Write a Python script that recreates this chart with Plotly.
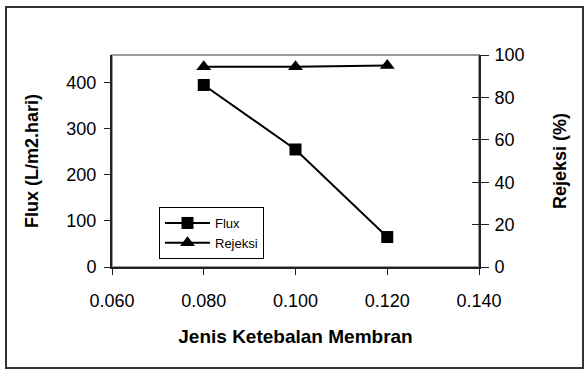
import plotly.graph_objects as go

thickness = [0.080, 0.100, 0.120]
flux = [395, 255, 65]
rejeksi = [94.5, 94.5, 95.0]

x_ticks = [0.06, 0.08, 0.10, 0.12, 0.14]
x_tick_labels = ["0.060", "0.080", "0.100", "0.120", "0.140"]
flux_ticks = [0, 100, 200, 300, 400]
rej_ticks = [0, 20, 40, 60, 80, 100]

W, H = 586, 370
L, R, T, B = 112, 107, 55, 103
pw, ph = W - L - R, H - T - B

fig = go.Figure()
fig.add_trace(go.Scatter(x=thickness, y=flux, name="Flux", mode="lines+markers",
                         line=dict(color="black", width=2),
                         marker=dict(symbol="square", size=12, color="black")))
fig.add_trace(go.Scatter(x=thickness, y=rejeksi, name="Rejeksi", mode="lines+markers",
                         yaxis="y2",
                         line=dict(color="black", width=2),
                         marker=dict(symbol="triangle-up", size=13, color="black")))

font = "Liberation Sans, Arial, sans-serif"
axc = "#222222"

def px(x):
    return (x - L) / pw

def py(y):
    return (H - B - y) / ph

fig.update_layout(
    width=W, height=H,
    margin=dict(l=L, r=R, t=T, b=B),
    paper_bgcolor="white", plot_bgcolor="white",
    font=dict(family=font, color="black", size=18),
    showlegend=True,
    legend=dict(x=px(159), y=py(207), xanchor="left", yanchor="top",
                bgcolor="white", bordercolor="black", borderwidth=1,
                font=dict(size=13, family=font), tracegroupgap=0,
                itemwidth=45),
    xaxis=dict(range=[0.06, 0.14], tickvals=x_ticks, ticktext=x_tick_labels,
               showgrid=False, zeroline=False, showline=True, linecolor=axc,
               linewidth=2, ticks="outside", ticklen=6, tickcolor=axc,
               tickfont=dict(size=18), ticklabelstandoff=10,
               title=dict(text="<b>Jenis Ketebalan Membran</b>", font=dict(size=19), standoff=20)),
    yaxis=dict(range=[0, 460], tickvals=flux_ticks, showgrid=False, zeroline=False,
               showline=True, linecolor=axc, linewidth=2, ticks="outside",
               ticklen=6, tickcolor=axc, tickfont=dict(size=18), ticklabelstandoff=4,
               title=dict(text="<b>Flux (L/m2.hari)</b>", font=dict(size=18), standoff=23)),
    yaxis2=dict(range=[0, 100], tickvals=rej_ticks, overlaying="y", side="right",
                showgrid=False, zeroline=False, showline=True, linecolor=axc,
                linewidth=2, ticks="outside", ticklen=8, tickcolor=axc,
                tickfont=dict(size=18), ticklabelstandoff=2,
                title=dict(text="<b>Rejeksi (%)</b>", font=dict(size=18), standoff=30)),
    yaxis3=dict(range=[0, 100], tickvals=rej_ticks, overlaying="y", side="right",
                anchor="x", showgrid=False, zeroline=False, showline=False,
                ticks="inside", ticklen=7, tickcolor=axc, showticklabels=False),
    shapes=[
        dict(type="rect", xref="paper", yref="paper", x0=0, x1=1, y0=0, y1=1,
             line=dict(color="#999999", width=2), layer="below"),
        dict(type="rect", xref="paper", yref="paper",
             x0=px(6), x1=px(583), y0=py(368), y1=py(7),
             line=dict(color="#333333", width=2)),
    ],
)
fig.add_trace(go.Scatter(x=[None], y=[None], yaxis="y3", showlegend=False, hoverinfo="skip"))

fig.write_html("out.html")
